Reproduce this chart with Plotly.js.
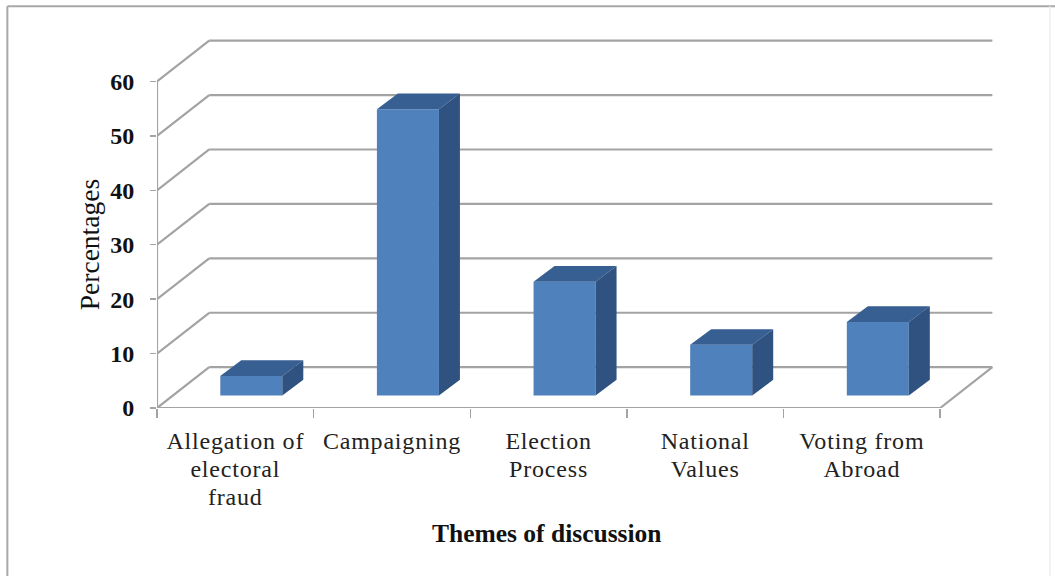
<!DOCTYPE html>
<html>
<head>
<meta charset="utf-8">
<script src="https://cdn.plot.ly/plotly-3.0.1.min.js"></script>
<style>
html,body{margin:0;padding:0;background:#fff}
/* Category labels are set slightly wider than the font's default spacing */
.xtick text{letter-spacing:.8px}
</style>
</head>
<body>
<div id="chart" style="width:1055px;height:576px"></div>
<script>
// Share of discussion per theme
const categories = ["Allegation of<br>electoral<br>fraud", "Campaigning", "Election<br>Process", "National<br>Values", "Voting from<br>Abroad"];
const values = [3.6, 52.6, 20.9, 9.3, 13.5];
const yTicks = [0, 10, 20, 30, 40, 50, 60];

// Oblique projection of the chart box, in axis units
const wallDx = 0.3333, wallDy = 7.5;   // floor front edge to back wall
const barLift = 2.3, barShift = 0.102; // bars stand part-way into the floor
const barDx = 0.134, barDy = 2.88;     // depth of each bar
const barWidth = 0.396;
const nCat = categories.length;

const gridColor = "#a3a3a3";
const centres = categories.map((_, i) => i + 0.5);

// Back-wall gridlines sit under the bars
const wallLines = yTicks.map(t => ({
  type: "line", layer: "below", xref: "x", yref: "y",
  x0: wallDx, x1: nCat + wallDx, y0: t + wallDy, y1: t + wallDy,
  line: {color: gridColor, width: 2.2}
}));

// Outer chart border: left and top run off the page, the right edge is faint
const border = [
  {type: "line", xref: "paper", yref: "paper", x0: -0.179, x1: -0.179, y0: -0.5, y1: 1.089,
   line: {color: "#a8a8a8", width: 2}},
  {type: "line", xref: "paper", yref: "paper", x0: -0.179, x1: 1.1, y0: 1.089, y1: 1.089,
   line: {color: "#a8a8a8", width: 2}},
  {type: "line", xref: "paper", yref: "paper", x0: 1.068, x1: 1.068, y0: -0.5, y1: 1.089,
   line: {color: "#efefef", width: 1.5}}
];

// Side-wall diagonals, floor edges and the vertical axis
const frameX = [], frameY = [];
yTicks.forEach(t => { frameX.push(0, wallDx, null); frameY.push(t, t + wallDy, null); });
frameX.push(0, 0, null, 0, nCat, wallDx + nCat, null);
frameY.push(0, 60, null, 0, 0, wallDy, null);

// Top and side faces of each bar, closed polygons separated by gaps
const topX = [], topY = [], sideX = [], sideY = [];
values.forEach((v, i) => {
  const l = centres[i] + barShift - barWidth / 2, r = l + barWidth;
  const b = barLift, t = barLift + v;
  topX.push(l, r, r + barDx, l + barDx, l, null);
  topY.push(t, t, t + barDy, t + barDy, t, null);
  sideX.push(r, r + barDx, r + barDx, r, r, null);
  sideY.push(b, b + barDy, t + barDy, t, b, null);
});

const traces = [
  {type: "bar", x: centres.map(c => c + barShift), y: values, base: values.map(() => barLift),
   width: barWidth, marker: {color: "#4f81bd", line: {width: 0}}, hoverinfo: "y"},
  {type: "scatter", mode: "lines", x: topX, y: topY, fill: "toself", fillcolor: "#375f92",
   line: {width: 0, color: "#375f92"}, hoverinfo: "skip"},
  {type: "scatter", mode: "lines", x: sideX, y: sideY, fill: "toself", fillcolor: "#2f5280",
   line: {width: 0, color: "#2f5280"}, hoverinfo: "skip"},
  {type: "scatter", mode: "lines", x: frameX, y: frameY, cliponaxis: false,
   line: {color: gridColor, width: 2.2}, hoverinfo: "skip"}
];

const layout = {
  width: 1055, height: 576,
  margin: {l: 157, r: 62, t: 39, b: 168, pad: 0},
  paper_bgcolor: "#ffffff", plot_bgcolor: "rgba(0,0,0,0)",
  showlegend: false,
  xaxis: {
    range: [0, nCat + wallDx + 0.004],
    showgrid: false, zeroline: false, showline: false, fixedrange: true,
    tickmode: "array", tickvals: centres, ticktext: categories,
    ticks: "", ticklabelstandoff: 16,
    tickfont: {family: "Liberation Serif", size: 24, color: "#222222"},
    minor: {tickmode: "array", tickvals: [0, 1, 2, 3, 4, 5], ticks: "outside", ticklen: 9,
            tickwidth: 1.5, tickcolor: gridColor, showgrid: false}
  },
  yaxis: {
    range: [0, 60 + wallDy + 0.3],
    showgrid: false, zeroline: false, showline: false, fixedrange: true,
    tickmode: "array", tickvals: yTicks,
    ticks: "outside", ticklen: 6, tickwidth: 1.5, tickcolor: gridColor, ticklabelstandoff: 11,
    tickfont: {family: "Liberation Serif", size: 24, color: "#111111", weight: 700}
  },
  shapes: wallLines.concat(border),
  annotations: [
    {text: "Themes of discussion", xref: "x", yref: "paper", x: 2.49, y: 0, yshift: -142,
     showarrow: false, font: {family: "Liberation Serif", size: 25.5, color: "#111111", weight: 700}},
    {text: "Percentages", xref: "paper", yref: "y", x: 0, xshift: -85, y: 30, textangle: -90,
     showarrow: false, font: {family: "Liberation Serif", size: 27.5, color: "#111111"}}
  ]
};

Plotly.newPlot("chart", traces, layout, {displayModeBar: false, staticPlot: true}).then(() => {
  // Tighter leading for the wrapped category labels: each line's dy counts from the first line
  document.querySelectorAll(".xtick tspan.line").forEach(t => {
    const lineIndex = Math.round(parseFloat(t.getAttribute("dy") || "0") / 1.3);
    t.setAttribute("dy", (lineIndex * 28) + "px");
  });
});
</script>
</body>
</html>
